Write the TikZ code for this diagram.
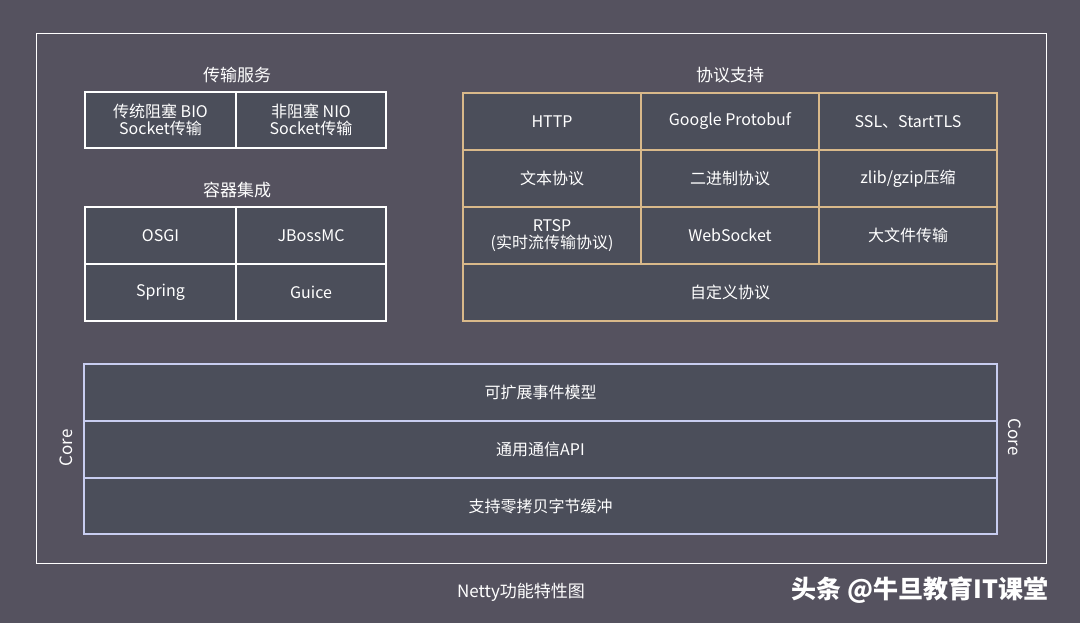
\documentclass[tikz,border=0pt]{standalone}
\usepackage{fontspec}
\setmainfont{Noto Sans CJK SC}
\definecolor{bg}{HTML}{55525F}
\definecolor{cell}{HTML}{4B4E5A}
\definecolor{gold}{HTML}{D9B98A}
\definecolor{lav}{HTML}{C8CDF0}
\begin{document}
\begin{tikzpicture}[x=1pt,y=-1pt,
  wcell/.style={draw=white,line width=1.8pt,fill=cell,text=white,font=\fontsize{16}{17}\selectfont,align=center},
  gcell/.style={draw=gold,line width=1.8pt,fill=cell,text=white,font=\fontsize{16}{17}\selectfont,align=center},
  ccell/.style={draw=lav,line width=1.8pt,fill=cell,text=white,font=\fontsize{16}{17}\selectfont,align=center},
  ttl/.style={text=white,font=\fontsize{17}{18}\selectfont}]
\fill[bg] (0,0) rectangle (1080,623);
\useasboundingbox (0,0) rectangle (1080,623);
\draw[white,line width=0.8pt] (36,33) rectangle (1046,563);
\node[ttl] (t1) at (237,75) {传输服务};
\newcommand\cellbox[7]{\draw[#1] (#2,#3) rectangle (#4,#5); \node[#1,draw=none,fill=none] (#6) at ({(#2+#4)/2},{(#3+#5)/2}) {#7};}
\cellbox{wcell}{85}{92}{236}{148}{bio}{传统阻塞 BIO\\Socket传输}
\cellbox{wcell}{236}{92}{386}{148}{nio}{非阻塞 NIO\\Socket传输}
\node[ttl] (t2) at (237,190) {容器集成};
\cellbox{wcell}{85}{207}{236}{264}{osgi}{OSGI}
\cellbox{wcell}{236}{207}{386}{264}{jb}{JBossMC}
\cellbox{wcell}{85}{264}{236}{321}{spr}{Spring}
\cellbox{wcell}{236}{264}{386}{321}{gui}{Guice}
\node[ttl] (t3) at (730,75) {协议支持};
\cellbox{gcell}{463}{93}{641}{150}{http}{HTTP}
\cellbox{gcell}{641}{93}{819}{150}{gp}{Google Protobuf}
\cellbox{gcell}{819}{93}{997}{150}{ssl}{SSL、StartTLS}
\cellbox{gcell}{463}{150}{641}{207}{txt}{文本协议}
\cellbox{gcell}{641}{150}{819}{207}{bin}{二进制协议}
\cellbox{gcell}{819}{150}{997}{207}{zl}{zlib/gzip压缩}
\cellbox{gcell}{463}{207}{641}{264}{rtsp}{RTSP\\(实时流传输协议)}
\cellbox{gcell}{641}{207}{819}{264}{ws}{WebSocket}
\cellbox{gcell}{819}{207}{997}{264}{big}{大文件传输}
\cellbox{gcell}{463}{264}{997}{321}{cus}{自定义协议}
\cellbox{ccell}{84}{364}{997}{421}{ev}{可扩展事件模型}
\cellbox{ccell}{84}{421}{997}{478}{api}{通用通信API}
\cellbox{ccell}{84}{478}{997}{534}{zc}{支持零拷贝字节缓冲}
\node[ttl,rotate=90] (cl) at (66,448) {Core};
\node[ttl,rotate=-90] (cr) at (1015,437) {Core};
\node[text=white,font=\fontsize{17}{18}\selectfont] (cap) at (521,592) {Netty功能特性图};
\node[text=white,font=\fontsize{25}{26}\selectfont\bfseries] (wm) at (920,590) {头条 @牛旦教育IT课堂};
\end{tikzpicture}
\end{document}
